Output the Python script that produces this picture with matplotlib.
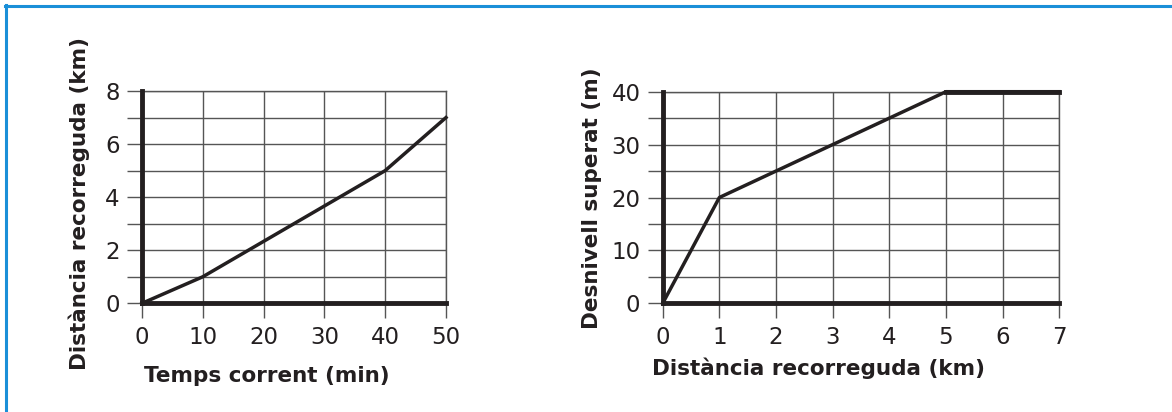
import matplotlib
matplotlib.use("Agg")
import matplotlib.pyplot as plt
from matplotlib.lines import Line2D

plt.rcParams['font.family'] = ['DejaVu Sans']

# gràfic 1: temps - distància
temps = [0, 10, 40, 50]
distancia = [0, 1, 5, 7]
# gràfic 2: distància - desnivell
dist_km = [0, 1, 5, 7]
desnivell = [0, 20, 40, 40]

txt = '#231f20'
grid_c = '#555555'

fig = plt.figure(figsize=(11.72, 4.12), dpi=100)

# marc blau
fig.add_artist(Line2D([5 / 1172, 1.0], [1 - 5.5 / 412, 1 - 5.5 / 412],
                      transform=fig.transFigure, color='#1a8fd8', lw=2.2))
fig.add_artist(Line2D([6 / 1172, 6 / 1172], [0, 1 - 4.5 / 412],
                      transform=fig.transFigure, color='#1a8fd8', lw=2.2))


def style(ax, xt, xl, yt, yl):
    ax.set_xticks(xt, labels=xl)
    ax.set_yticks(yt, labels=yl)
    ax.set_xlim(xt[0], xt[-1])
    ax.set_ylim(yt[0], yt[-1])
    ax.grid(True, color=grid_c, lw=1.0)
    ax.tick_params(direction='out', length=11, width=1.0, color=grid_c,
                   labelsize=16.5, labelcolor=txt, pad=5)
    for s in ['top', 'right']:
        ax.spines[s].set_color(grid_c)
        ax.spines[s].set_linewidth(1.0)
    for s in ['left', 'bottom']:
        ax.spines[s].set_color(txt)
        ax.spines[s].set_linewidth(3.5)
        ax.spines[s].set_zorder(3)


ax1 = fig.add_axes([142 / 1172, 1 - 303.3 / 412, 304 / 1172, 212.3 / 412])
ax1.plot(temps, distancia, color=txt, lw=2.5, zorder=4, clip_on=False)
style(ax1, [0, 10, 20, 30, 40, 50], ['0', '10', '20', '30', '40', '50'],
      list(range(9)), ['0', '', '2', '', '4', '', '6', '', '8'])
ax1.set_xlabel('Temps corrent (min)', fontsize=15.5, fontweight='bold', color=txt)
ax1.set_ylabel('Distància recorreguda (km)', fontsize=15.5, fontweight='bold', color=txt)
ax1.xaxis.set_label_coords(0.411, -0.295)
ax1.yaxis.set_label_coords(-0.171, 0.468)

ax2 = fig.add_axes([662.7 / 1172, 1 - 303.3 / 412, 396.6 / 1172, 211.6 / 412])
ax2.plot(dist_km, desnivell, color=txt, lw=2.5, zorder=4, clip_on=False)
ax2.plot(dist_km[2:], desnivell[2:], color=txt, lw=3.5, zorder=4, clip_on=False)
style(ax2, list(range(8)), [str(i) for i in range(8)],
      list(range(0, 45, 5)), ['0', '', '10', '', '20', '', '30', '', '40'])
ax2.set_xlabel('Distància recorreguda (km)', fontsize=15.5, fontweight='bold', color=txt)
ax2.set_ylabel('Desnivell superat (m)', fontsize=15.5, fontweight='bold', color=txt)
ax2.xaxis.set_label_coords(0.394, -0.254)
ax2.yaxis.set_label_coords(-0.153, 0.498)

fig.savefig('out.png', dpi=100)
